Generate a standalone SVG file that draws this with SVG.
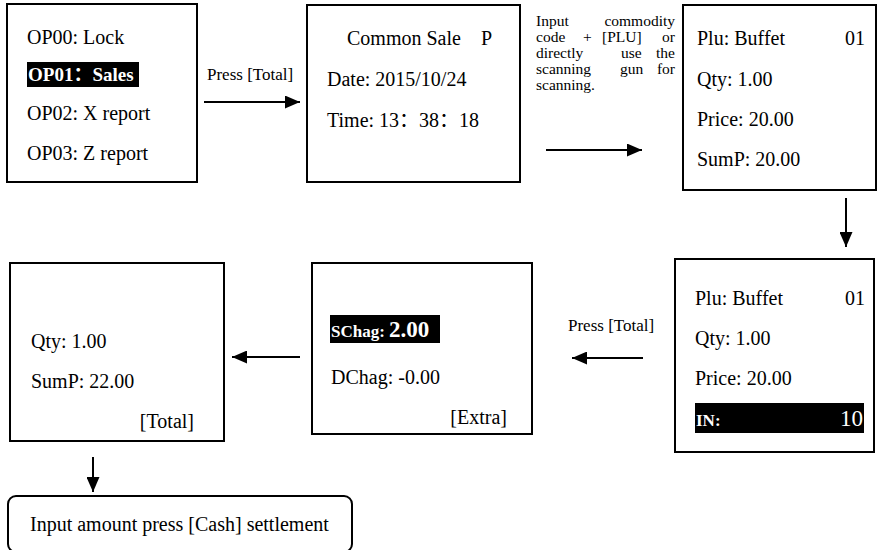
<svg xmlns="http://www.w3.org/2000/svg" width="889" height="550" viewBox="0 0 889 550">
<defs>
<marker id="ah" viewBox="0 0 15 13" refX="15" refY="6.5" markerWidth="15" markerHeight="13" markerUnits="userSpaceOnUse" orient="auto">
<path d="M0,0 L15,6.5 L0,13 Z" fill="#000"/>
</marker>
<style>
.box{fill:#fff;stroke:#000;stroke-width:2}
text{font-family:"Liberation Serif","Times New Roman",Times,serif;fill:#000}
.t{font-size:20px}
.s{font-size:17px}
.j{font-size:15.5px}
.cjk{font-family:"Noto Sans CJK SC",sans-serif}
.w{fill:#fff;font-weight:bold}
.c{stroke:#000;stroke-width:2;fill:none}
</style>
</defs>
<rect width="889" height="550" fill="#fff"/>
<g id="menu">
<rect class="box" x="7" y="4" width="190" height="178"/>
<text class="t" x="27" y="44">OP00: Lock</text>
<rect x="27" y="62" width="112" height="25" fill="#000"/>
<text class="t w" x="28" y="81" style="font-size:19px">OP01<tspan class="cjk">：</tspan>Sales</text>
<text class="t" x="27" y="120">OP02: X report</text>
<text class="t" x="27" y="160">OP03: Z report</text>
</g>
<g id="common-sale">
<rect class="box" x="307" y="5" width="213" height="177"/>
<text class="t" x="347" y="45" xml:space="preserve">Common Sale    P</text>
<text class="t" x="327" y="86">Date: 2015/10/24</text>
<text class="t" x="327" y="127">Time: 13<tspan class="cjk">：</tspan>38<tspan class="cjk">：</tspan>18</text>
</g>
<g id="note">
<text class="j" y="26"><tspan x="536">Input</tspan><tspan x="675" text-anchor="end">commodity</tspan></text>
<text class="j" y="42"><tspan x="536">code</tspan><tspan x="583">+</tspan><tspan x="602">[PLU]</tspan><tspan x="675" text-anchor="end">or</tspan></text>
<text class="j" y="58"><tspan x="536">directly</tspan><tspan x="621">use</tspan><tspan x="675" text-anchor="end">the</tspan></text>
<text class="j" y="74"><tspan x="536">scanning</tspan><tspan x="620">gun</tspan><tspan x="675" text-anchor="end">for</tspan></text>
<text class="j" x="536" y="90">scanning.</text>
</g>
<g id="plu1">
<rect class="box" x="683" y="5" width="193" height="185"/>
<text class="t" x="697" y="45">Plu: Buffet</text>
<text class="t" x="845" y="45">01</text>
<text class="t" x="697" y="86">Qty: 1.00</text>
<text class="t" x="697" y="126">Price: 20.00</text>
<text class="t" x="697" y="166">SumP: 20.00</text>
</g>
<g id="plu2">
<rect class="box" x="675" y="259" width="199" height="193"/>
<text class="t" x="695" y="305">Plu: Buffet</text>
<text class="t" x="845" y="305">01</text>
<text class="t" x="695" y="345">Qty: 1.00</text>
<text class="t" x="695" y="385">Price: 20.00</text>
<rect x="695" y="403" width="169" height="30" fill="#000"/>
<text class="s w" x="696" y="426">IN:</text>
<text x="863" y="426" text-anchor="end" style="font-size:23px;fill:#fff">10</text>
</g>
<g id="change">
<rect class="box" x="312" y="263" width="220" height="171"/>
<rect x="330" y="315" width="110" height="28" fill="#000"/>
<text class="s w" x="331" y="337">SChag: <tspan style="font-size:23px">2.00</tspan></text>
<text class="t" x="331" y="384">DChag: -0.00</text>
<text class="t" x="507" y="424" text-anchor="end">[Extra]</text>
</g>
<g id="total">
<rect class="box" x="10" y="263" width="214" height="178"/>
<text class="t" x="31" y="348">Qty: 1.00</text>
<text class="t" x="31" y="388">SumP: 22.00</text>
<text class="t" x="194" y="428" text-anchor="end">[Total]</text>
</g>
<g id="settle">
<rect class="box" x="8" y="496" width="344" height="56" rx="8"/>
<text class="t" x="30" y="531">Input amount press [Cash] settlement</text>
</g>
<g id="connectors">
<text class="s" x="207" y="80">Press [Total]</text>
<line class="c" x1="204" y1="102" x2="300" y2="102" marker-end="url(#ah)"/>
<line class="c" x1="546" y1="150" x2="642" y2="150" marker-end="url(#ah)"/>
<line class="c" x1="846" y1="198" x2="846" y2="247" marker-end="url(#ah)"/>
<text class="s" x="568" y="331">Press [Total]</text>
<line class="c" x1="643" y1="358" x2="572" y2="358" marker-end="url(#ah)"/>
<line class="c" x1="300" y1="357" x2="232" y2="357" marker-end="url(#ah)"/>
<line class="c" x1="93" y1="457" x2="93" y2="492" marker-end="url(#ah)"/>
</g>
</svg>
